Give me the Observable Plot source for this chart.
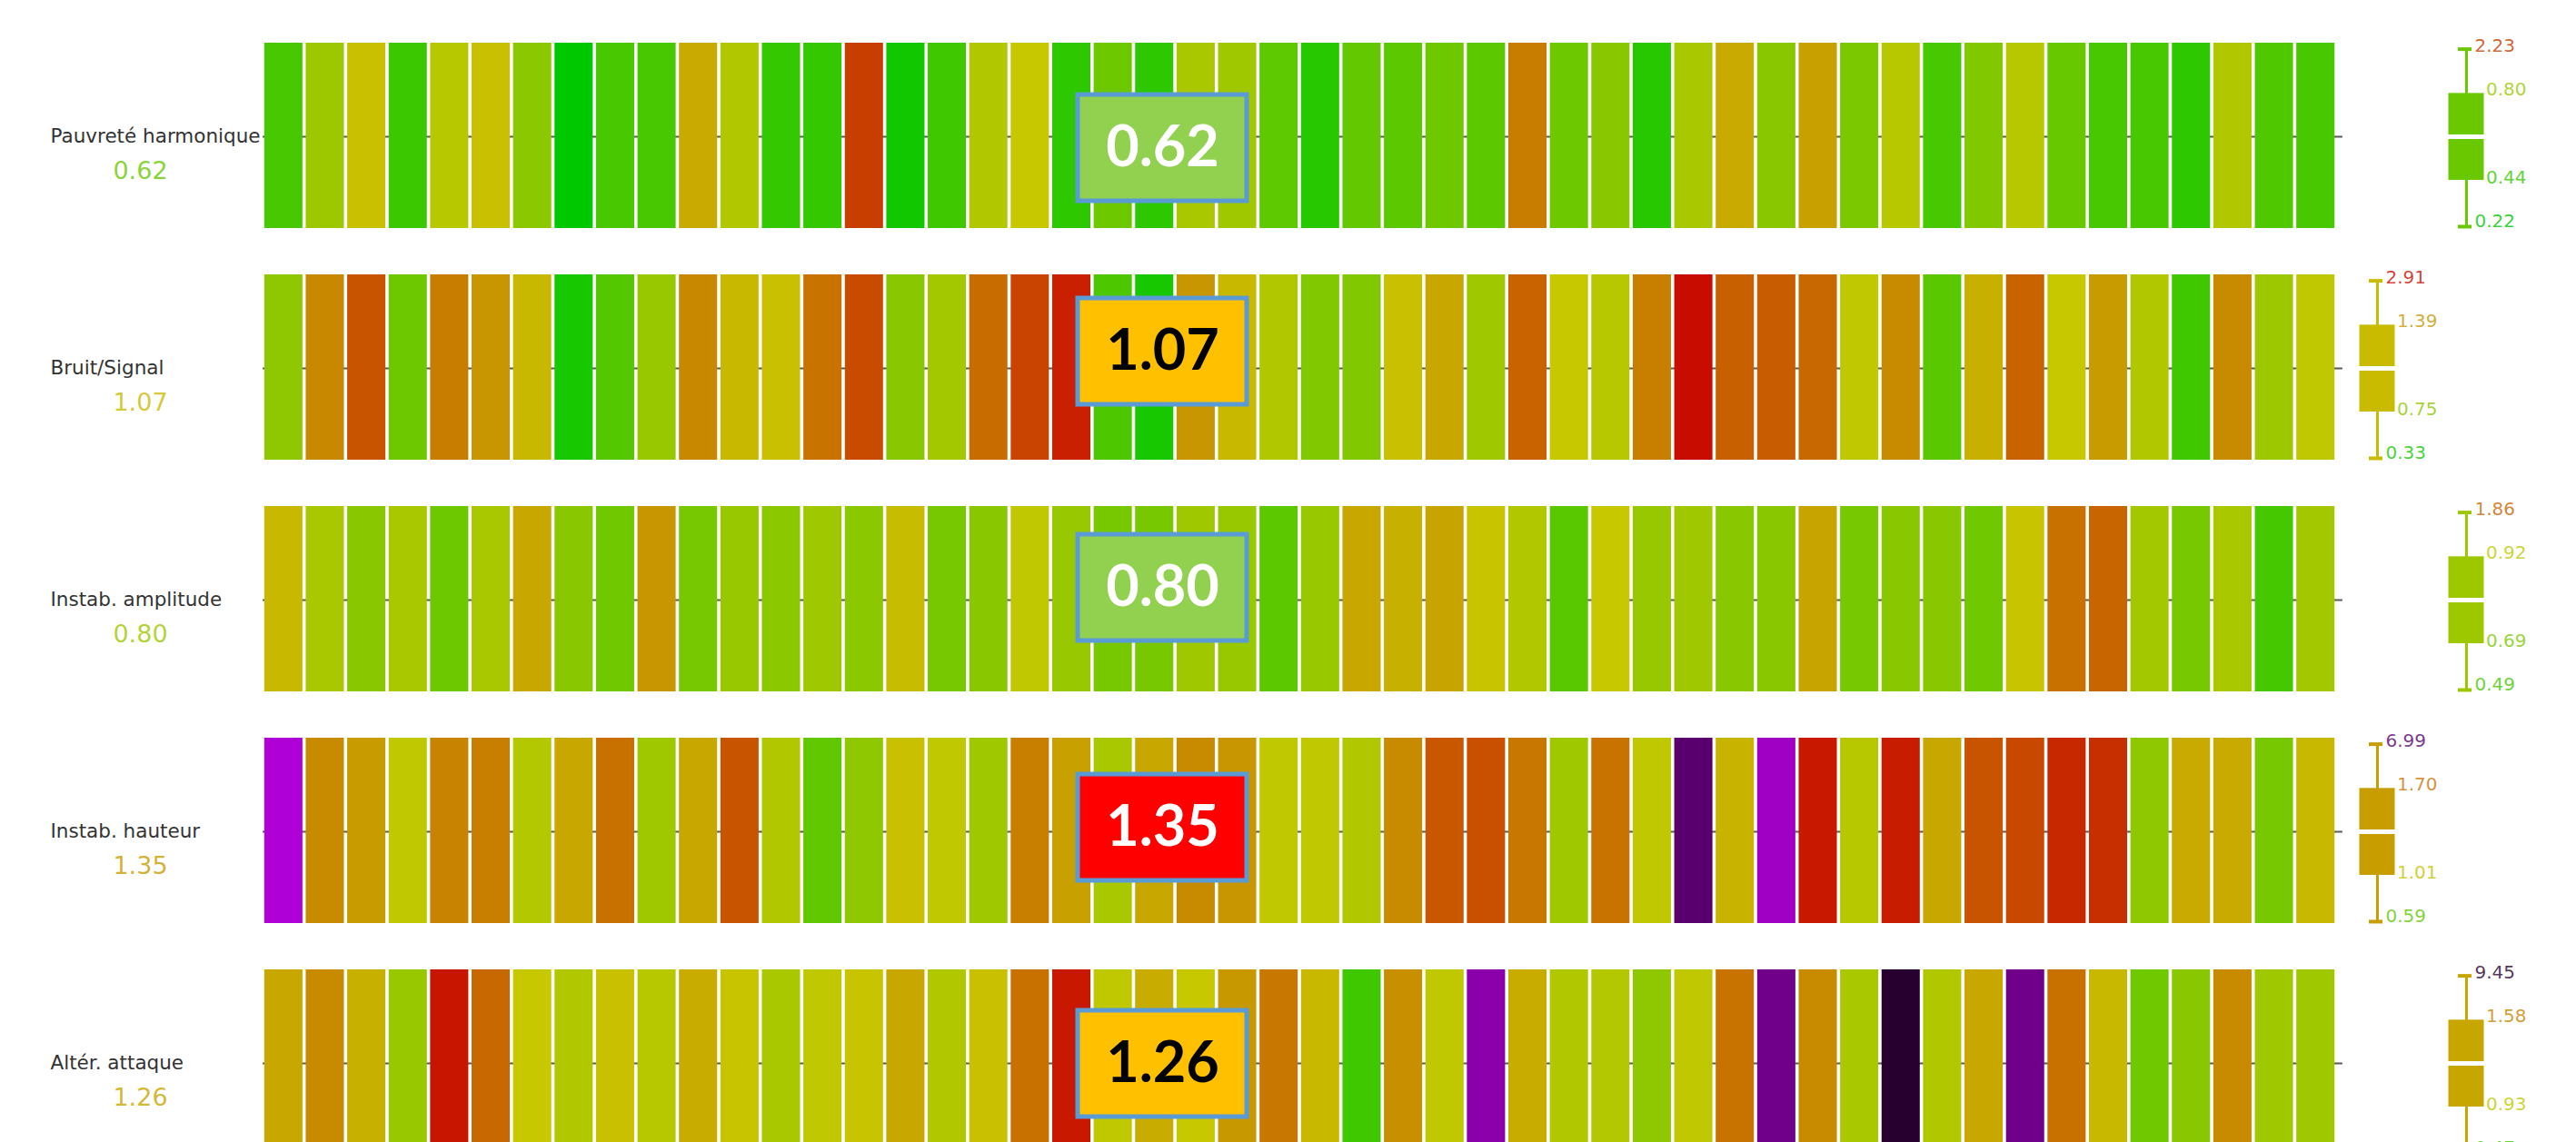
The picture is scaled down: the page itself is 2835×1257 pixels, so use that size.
<!DOCTYPE html>
<html><head><meta charset="utf-8">
<script src="https://cdn.jsdelivr.net/npm/d3@7"></script>
<script src="https://cdn.jsdelivr.net/npm/@observablehq/plot@0.6"></script>
<style>
html,body{margin:0;padding:0;background:#fff;overflow:hidden;}
#chart svg{display:block;overflow:hidden;}
</style></head><body><div id="chart"></div>
<script>
// ---------- DATA ----------
const metrics = ["Pauvreté harmonique", "Bruit/Signal", "Instab. amplitude", "Instab. hauteur", "Altér. attaque"];

const pauvreteHarmonique = [0.50,0.80,1.02,0.46,0.89,1.02,0.74,0.22,0.50,0.50,1.23,0.87,0.43,0.43,2.23,0.31,0.47,0.87,0.95,0.41,
  0.63,0.41,0.84,0.81,0.58,0.39,0.60,0.57,0.63,0.57,1.65,0.63,0.73,0.39,0.84,1.23,0.73,1.32,0.68,0.89,
  0.50,0.70,0.89,0.61,0.50,0.50,0.41,0.87,0.53,0.50];
const bruitSignal = [0.75,1.54,2.02,0.63,1.65,1.41,1.10,0.33,0.54,0.78,1.54,1.10,1.02,1.73,2.10,0.73,0.82,1.80,2.17,2.50,
  0.52,0.33,1.41,1.10,0.87,0.70,0.70,1.02,1.25,0.81,1.88,0.95,0.89,1.62,2.91,1.91,1.95,1.84,0.92,1.51,
  0.56,1.17,1.88,0.95,1.36,0.87,0.47,1.51,0.80,0.92];
const instabAmplitude = [1.10,0.84,0.73,0.84,0.63,0.84,1.25,0.73,0.64,1.41,0.67,0.78,0.74,0.81,0.74,1.06,0.67,0.73,0.92,0.78,
  0.67,0.67,0.81,0.78,0.57,0.78,1.25,1.17,1.28,0.99,0.87,0.56,0.95,0.78,0.81,0.73,0.73,1.28,0.67,0.73,
  0.73,0.64,0.99,1.76,1.86,0.82,0.67,0.84,0.49,0.82];
const instabHauteur = [4.30,1.51,1.36,0.92,1.58,1.62,0.88,1.25,1.76,0.81,1.25,2.02,0.87,0.59,0.75,1.02,0.92,0.81,1.62,1.32,
  0.84,1.25,1.51,1.41,0.92,0.92,0.87,1.51,1.99,2.06,1.69,0.81,1.73,0.92,6.99,1.13,4.80,2.65,0.89,2.58,
  1.25,2.02,2.13,2.43,2.36,0.75,1.23,1.23,0.67,1.10];
const alterAttaque = [1.25,1.51,1.17,0.78,2.73,1.84,0.95,0.87,1.02,0.89,1.21,0.99,0.84,0.92,0.99,1.25,0.87,1.02,1.76,2.65,
  0.92,1.21,0.95,1.39,1.69,1.10,0.47,1.47,0.92,5.43,1.21,0.87,0.88,0.75,0.92,1.73,6.31,1.51,0.84,9.45,
  0.87,1.25,6.31,1.76,1.10,0.64,0.73,1.51,0.81,0.81];

const medians = [0.62, 1.07, 0.80, 1.35, 1.26];
const maxima  = [2.23, 2.91, 1.86, 6.99, 9.45];
const upperQ  = [0.80, 1.39, 0.92, 1.70, 1.58];
const lowerQ  = [0.44, 0.75, 0.69, 1.01, 0.93];
const minima  = [0.22, 0.33, 0.49, 0.59, 0.47];
const status  = ["bon", "moyen", "bon", "mauvais", "moyen"];

// ---------- STYLE / LAYOUT ----------
const colorDomain = [0.25, 0.95, 2.5, 3.2, 4.3, 7.0, 9.45];
const colorRange  = ["#00c800", "#c8c800", "#c82000", "#c80000", "#b000d8", "#5a006e", "#280030"];
const statusFill  = {bon: "#92d050", moyen: "#ffc000", mauvais: "#ff0000"};
const statusText  = {bon: "#ffffff", moyen: "#000000", mauvais: "#ffffff"};

const W = 2835, H = 1257;
const CELL = 45.64, X0 = 289, ROWH = 255, Y0 = 47;
const ux = px => (px - X0) / CELL;
const pxu = px => px / CELL;
const uy = px => (px - Y0) / ROWH;
const pyu = px => px / ROWH;
const boxplotXpx = [2714, 2616, 2714, 2616, 2714];
const highlightTopPx = [57, 26, 31, 40, 45];
const highlightH = 117;

// ---------- BUILD ----------
const series = [pauvreteHarmonique, bruitSignal, instabAmplitude, instabHauteur, alterAttaque];
const cells = series.flatMap((vals, r) => vals.map((v, i) => ({r, i, value: v})));
const rows = metrics.map((name, r) => ({
  r, name, median: medians[r], max: maxima[r], q3: upperQ[r], q1: lowerQ[r], min: minima[r],
  status: status[r], bx: ux(boxplotXpx[r]), hTop: r + pyu(highlightTopPx[r])
}));

const mid = 0.404, capTop = 0.026, capBot = 0.792, boxTop = 0.217, boxBot = 0.592;
const bw = pxu(19.5);
const labelOpacity = 0.8;

const chart = Plot.plot({
  width: W, height: H,
  margin: 0,
  x: {type: "linear", domain: [ux(0), ux(W)], axis: null},
  y: {type: "linear", domain: [uy(0), uy(H)], reverse: true, axis: null},
  color: {type: "linear", domain: colorDomain, range: colorRange, clamp: true},
  style: {fontFamily: "DejaVu Sans", background: "#fff"},
  marks: [
    Plot.ruleY(rows, {y: d => d.r + mid, x1: 0, x2: 50.15, stroke: "#5a5a5a", strokeWidth: 2}),
    Plot.rect(cells, {x1: d => d.i, x2: d => d.i + 1, y1: d => d.r, y2: d => d.r + 0.8,
      fill: "value", insetLeft: 1.8, insetRight: 1.8, clip: true}),
    // left labels
    Plot.text(rows, {x: ux(55), y: d => d.r + mid, text: "name", textAnchor: "start", fontSize: 21.5, fill: "#333"}),
    Plot.text(rows, {x: ux(154), y: d => d.r + 0.553, text: d => d.median.toFixed(2), fontSize: 27, fill: "median", fillOpacity: labelOpacity}),
    // highlighted median boxes
    ...Object.keys(statusFill).map(s => Plot.rect(rows.filter(d => d.status === s), {
      x1: ux(1186), x2: ux(1372), y1: d => d.hTop, y2: d => d.hTop + pyu(highlightH),
      fill: statusFill[s], stroke: "#5b9bd5", strokeWidth: 5})),
    ...Object.keys(statusFill).map(s => Plot.text(rows.filter(d => d.status === s), {
      x: ux(1279), y: d => d.hTop + pyu(highlightH / 2), text: d => d.median.toFixed(2),
      fontFamily: "Lato", fontWeight: "bold", fontSize: 63, fill: statusText[s]})),
    // boxplots
    Plot.ruleX(rows, {x: "bx", y1: d => d.r + capTop, y2: d => d.r + capBot, stroke: "median", strokeWidth: 3, clip: true}),
    Plot.ruleY(rows, {y: d => d.r + capTop, x1: d => d.bx - pxu(9), x2: d => d.bx + pxu(6), stroke: "median", strokeWidth: 4}),
    Plot.ruleY(rows, {y: d => d.r + capBot, x1: d => d.bx - pxu(9), x2: d => d.bx + pxu(6), stroke: "median", strokeWidth: 4, clip: true}),
    Plot.rect(rows, {x1: d => d.bx - bw, x2: d => d.bx + bw, y1: d => d.r + boxTop, y2: d => d.r + boxBot, fill: "median", clip: true}),
    Plot.ruleY(rows, {y: d => d.r + mid, x1: d => d.bx - bw - 0.05, x2: d => d.bx + bw + 0.05, stroke: "#fff", strokeWidth: 5}),
    Plot.text(rows, {x: d => d.bx + pxu(9), y: d => d.r + capTop, dy: -4, text: d => d.max.toFixed(2), textAnchor: "start", fontSize: 20, fill: "max", fillOpacity: labelOpacity}),
    Plot.text(rows, {x: d => d.bx + bw + pxu(2), y: d => d.r + boxTop, dy: -4, text: d => d.q3.toFixed(2), textAnchor: "start", fontSize: 20, fill: "q3", fillOpacity: labelOpacity}),
    Plot.text(rows, {x: d => d.bx + bw + pxu(2), y: d => d.r + boxBot, dy: -3, text: d => d.q1.toFixed(2), textAnchor: "start", fontSize: 20, fill: "q1", fillOpacity: labelOpacity}),
    Plot.text(rows, {x: d => d.bx + pxu(9), y: d => d.r + capBot, dy: -6, text: d => d.min.toFixed(2), textAnchor: "start", fontSize: 20, fill: "min", fillOpacity: labelOpacity, clip: true})
  ]
});
document.getElementById("chart").appendChild(chart);
</script></body></html>
